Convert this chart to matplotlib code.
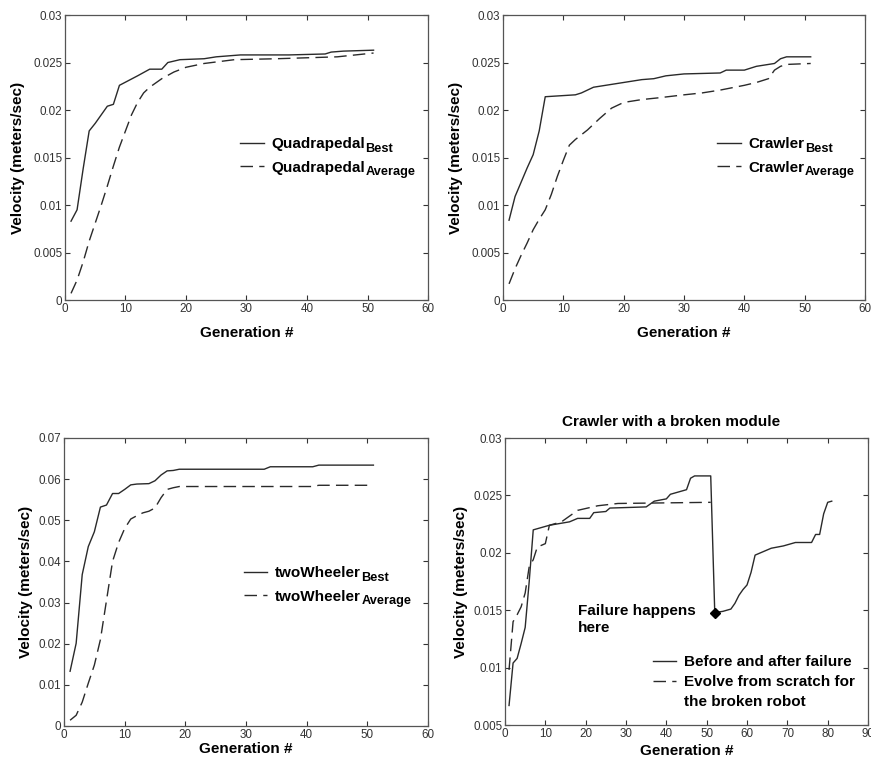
import matplotlib
matplotlib.use("Agg")
import matplotlib.pyplot as plt
from matplotlib.lines import Line2D
from matplotlib.ticker import FuncFormatter
from matplotlib.transforms import IdentityTransform

# ---------------- data ----------------
quad_best_x = [1, 2, 3, 4, 5, 7, 8, 9, 12, 14, 16, 17, 19, 23, 25, 29, 37, 43, 44, 46, 51]
quad_best_y = [0.0083, 0.0095, 0.0138, 0.0178, 0.0186, 0.0204, 0.0206, 0.0226, 0.0236, 0.0243, 0.0243,
               0.0250, 0.0253, 0.0254, 0.0256, 0.0258, 0.0258, 0.0259, 0.0261, 0.0262, 0.0263]
quad_avg_x = [1, 2, 3, 4, 5, 6, 7, 8, 9, 10, 11, 12, 13, 14, 16, 18, 20, 23, 28, 35, 45, 51]
quad_avg_y = [0.0007, 0.0021, 0.0040, 0.0062, 0.0081, 0.0100, 0.0120, 0.0141, 0.0161, 0.0178, 0.0195,
              0.0208, 0.0218, 0.0224, 0.0233, 0.0240, 0.0245, 0.0249, 0.0253, 0.0254, 0.0256, 0.0260]

crawl_best_x = [1, 2, 3, 4, 5, 6, 7, 12, 13, 15, 17, 20, 23, 25, 27, 30, 36, 37, 40, 42, 44, 45, 46, 47, 51]
crawl_best_y = [0.0084, 0.0109, 0.0124, 0.0139, 0.0153, 0.0178, 0.0214, 0.0216, 0.0218, 0.0224, 0.0226,
                0.0229, 0.0232, 0.0233, 0.0236, 0.0238, 0.0239, 0.0242, 0.0242, 0.0246, 0.0248, 0.0249,
                0.0254, 0.0256, 0.0256]
crawl_avg_x = [1, 2, 3, 4, 5, 6, 7, 8, 9, 10, 11, 12, 13, 14, 16, 18, 20, 23, 26, 30, 33, 36, 40, 42, 44,
               45, 46, 47, 51]
crawl_avg_y = [0.0017, 0.0033, 0.0047, 0.0060, 0.0074, 0.0085, 0.0095, 0.0111, 0.0130, 0.0147, 0.0163,
               0.0169, 0.0174, 0.0179, 0.0191, 0.0202, 0.0208, 0.0211, 0.0213, 0.0216, 0.0218, 0.0221,
               0.0226, 0.0229, 0.0233, 0.0242, 0.0246, 0.0248, 0.0249]

wheel_best_x = [1, 2, 3, 4, 5, 6, 7, 8, 9, 10, 11, 12, 14, 15, 16, 17, 18, 19, 33, 34, 41, 42, 51]
wheel_best_y = [0.0133, 0.0201, 0.0368, 0.0436, 0.0472, 0.0532, 0.0537, 0.0565, 0.0565, 0.0575, 0.0586,
                0.0588, 0.0589, 0.0596, 0.0610, 0.0620, 0.0621, 0.0624, 0.0624, 0.0630, 0.0630, 0.0634,
                0.0634]
wheel_avg_x = [1, 2, 3, 4, 5, 6, 7, 8, 9, 10, 11, 12, 13, 14, 15, 16, 17, 18, 19, 41, 42, 51]
wheel_avg_y = [0.0014, 0.0026, 0.0058, 0.0104, 0.0148, 0.0210, 0.0305, 0.0400, 0.0446, 0.0480, 0.0503,
               0.0511, 0.0518, 0.0522, 0.0530, 0.0555, 0.0575, 0.0579, 0.0582, 0.0582, 0.0585, 0.0585]

broken_x = [1, 2, 3, 4, 5, 6, 7, 11, 16, 18, 21, 22, 25, 26, 35, 37, 40, 41, 43, 45, 46, 47, 51, 52, 54,
            56, 57, 58, 59, 60, 61, 62, 64, 66, 69, 72, 76, 77, 78, 79, 80, 81]
broken_y = [0.0067, 0.0104, 0.0108, 0.0121, 0.0135, 0.0175, 0.0220, 0.0224, 0.0227, 0.0230, 0.0230,
            0.0235, 0.0236, 0.0239, 0.0240, 0.0245, 0.0247, 0.0251, 0.0253, 0.0255, 0.0265, 0.0267,
            0.0267, 0.0148, 0.0149, 0.0151, 0.0156, 0.0163, 0.0168, 0.0172, 0.0183, 0.0198, 0.0201,
            0.0204, 0.0206, 0.0209, 0.0209, 0.0216, 0.0216, 0.0234, 0.0244, 0.0245]
scratch_x = [1, 2, 3, 4, 5, 6, 7, 8, 10, 11, 14, 18, 23, 28, 51]
scratch_y = [0.0098, 0.0140, 0.0146, 0.0153, 0.0165, 0.0188, 0.0194, 0.0205, 0.0208, 0.0224, 0.0227,
             0.0237, 0.0241, 0.0243, 0.0244]
failure_x = [52]
failure_y = [0.0148]

legend_main = {'quad': 'Quadrapedal', 'crawl': 'Crawler', 'wheel': 'twoWheeler'}
legend_subs = ['Best', 'Average']

# ---------------- style ----------------
FAM = ['Liberation Sans', 'DejaVu Sans']
BOLD = dict(family=FAM, weight='bold', size=11)
TICKFONT = ['Liberation Sans Narrow', 'Liberation Sans', 'DejaVu Sans']
LC = '#2a2a2a'
DASH = (0, (9, 4.5))

fig = plt.figure(figsize=(8.71, 7.63), dpi=100)
fig.patch.set_facecolor('white')

fmt = FuncFormatter(lambda v, p: '%g' % round(v, 4))


def style_axes(ax, xmax, ylim, yticks):
    ax.set_xlim(0, xmax)
    ax.set_ylim(*ylim)
    ax.set_xticks(range(0, xmax + 1, 10))
    ax.set_yticks(yticks)
    ax.yaxis.set_major_formatter(fmt)
    ax.tick_params(direction='in', length=3.5, width=0.8, top=True, right=True,
                   labelsize=8.4, colors='#333333', pad=2)
    for lab in ax.get_xticklabels() + ax.get_yticklabels():
        lab.set_family(TICKFONT)
        lab.set_color('#333333')
    for s in ax.spines.values():
        s.set_color('#555555')
        s.set_linewidth(0.9)


legends_with_subs = []


def sub_legend(ax, key, anchor):
    leg = ax.legend([ax.lines[0], ax.lines[1]], [legend_main[key]] * 2,
                    loc='center left', bbox_to_anchor=anchor, frameon=False,
                    prop=dict(family=FAM, weight='bold', size=11),
                    handlelength=1.55, handletextpad=0.5, labelspacing=0.62, borderaxespad=0)
    legends_with_subs.append(leg)


# ---- subplot 1: Quadrapedal
ax1 = fig.add_axes([0.0746, 0.6068, 0.4168, 0.3735])
ax1.plot(quad_best_x, quad_best_y, color=LC, lw=1.0)
ax1.plot(quad_avg_x, quad_avg_y, color=LC, lw=1.0, linestyle=DASH)
style_axes(ax1, 60, (0, 0.03), [0, 0.005, 0.01, 0.015, 0.02, 0.025, 0.03])
ax1.set_xlabel('Generation #', fontdict=BOLD, labelpad=8)
ax1.set_ylabel('Velocity (meters/sec)', fontdict=BOLD, labelpad=6)
sub_legend(ax1, 'quad', (0.465, 0.505))

# ---- subplot 2: Crawler
ax2 = fig.add_axes([0.5775, 0.6068, 0.4156, 0.3735])
ax2.plot(crawl_best_x, crawl_best_y, color=LC, lw=1.0)
ax2.plot(crawl_avg_x, crawl_avg_y, color=LC, lw=1.0, linestyle=DASH)
style_axes(ax2, 60, (0, 0.03), [0, 0.005, 0.01, 0.015, 0.02, 0.025, 0.03])
ax2.set_xlabel('Generation #', fontdict=BOLD, labelpad=8)
ax2.set_ylabel('Velocity (meters/sec)', fontdict=BOLD, labelpad=6)
sub_legend(ax2, 'crawl', (0.575, 0.505))

# ---- subplot 3: twoWheeler
ax3 = fig.add_axes([0.0735, 0.0485, 0.4179, 0.3775])
ax3.plot(wheel_best_x, wheel_best_y, color=LC, lw=1.0)
ax3.plot(wheel_avg_x, wheel_avg_y, color=LC, lw=1.0, linestyle=DASH)
style_axes(ax3, 60, (0, 0.07), [0, 0.01, 0.02, 0.03, 0.04, 0.05, 0.06, 0.07])
ax3.set_xlabel('Generation #', fontdict=BOLD, labelpad=1)
ax3.set_ylabel('Velocity (meters/sec)', fontdict=BOLD, labelpad=4)
sub_legend(ax3, 'wheel', (0.477, 0.49))

# ---- subplot 4: Crawler with a broken module
ax4 = fig.add_axes([0.5798, 0.0498, 0.4168, 0.3761])
l1, = ax4.plot(broken_x, broken_y, color=LC, lw=1.0)
l2, = ax4.plot(scratch_x, scratch_y, color=LC, lw=1.0, linestyle=DASH)
ax4.plot(failure_x, failure_y, linestyle='none', marker='D', markersize=5.5, color='black')
style_axes(ax4, 90, (0.005, 0.03), [0.005, 0.01, 0.015, 0.02, 0.025, 0.03])
ax4.set_xlabel('Generation #', fontdict=BOLD, labelpad=3)
ax4.set_ylabel('Velocity (meters/sec)', fontdict=BOLD, labelpad=4)
ax4.set_title('Crawler with a broken module', fontdict=BOLD, x=0.457, pad=9)
ax4.text(18, 0.01417, 'Failure happens\nhere', ha='left', va='center', linespacing=1.25, **BOLD)
blank = Line2D([], [], linestyle='none')
ax4.legend([l1, l2, blank],
           ['Before and after failure', 'Evolve from scratch for', 'the broken robot'],
           loc='center left', bbox_to_anchor=(0.39, 0.15), frameon=False,
           prop=dict(family=FAM, weight='bold', size=11),
           handlelength=1.55, handletextpad=0.5, labelspacing=0.38, borderaxespad=0)

# ---- subscripts ("Best", "Average") placed right after each legend label
fig.canvas.draw()
for leg in legends_with_subs:
    for txt, sub in zip(leg.get_texts(), legend_subs):
        bb = txt.get_window_extent()
        fig.text(bb.x1 + 0.5, bb.y0 - 3.5, sub, transform=IdentityTransform(),
                 ha='left', va='bottom', family=FAM, weight='bold', size=9.2)

fig.savefig('out.png', dpi=100, facecolor='white')
